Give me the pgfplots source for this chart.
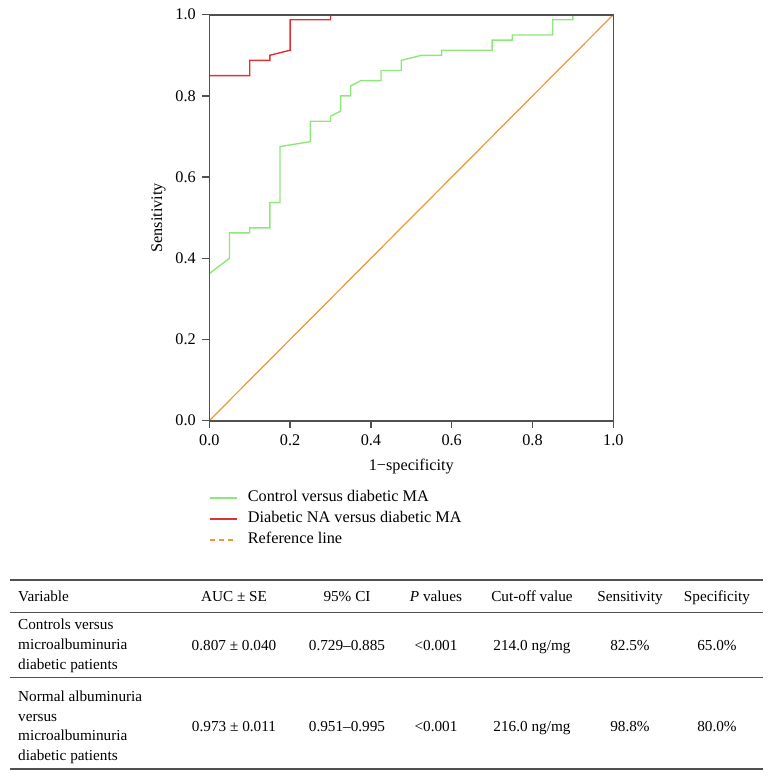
\documentclass[border=0pt]{standalone}
\usepackage{pgfplots}
\pgfplotsset{compat=1.18}
\usepackage{fontspec}
\setmainfont{Liberation Serif}
\definecolor{cgreen}{RGB}{140,232,120}
\definecolor{cred}{RGB}{226,48,48}
\definecolor{corange}{RGB}{240,150,50}
\definecolor{cframe}{RGB}{80,80,80}
\newcommand{\plotfont}{\fontsize{16.3}{19}\selectfont}
\newcommand{\tabfont}{\fontsize{15.3}{19}\selectfont}
\begin{document}
\begin{tikzpicture}
\path[use as bounding box] (0,0) rectangle (774bp,-780bp);
\begin{axis}[
  at={(209.3bp,-420.7bp)}, anchor=south west,
  scale only axis, width=404bp, height=406bp,
  xmin=0, xmax=1, ymin=0, ymax=1,
  axis on top,
  xtick={0,0.2,0.4,0.6,0.8,1}, ytick={0,0.2,0.4,0.6,0.8,1},
  tick pos=left, tick align=outside, major tick length=7bp,
  axis line style={cframe, line width=1.6bp},
  every tick/.style={cframe, line width=1.4bp},
  /pgf/number format/assume math mode=true,
  xticklabel={\pgfmathprintnumber[fixed,fixed zerofill,precision=1]{\tick}},
  yticklabel={\pgfmathprintnumber[fixed,fixed zerofill,precision=1]{\tick}},
  ticklabel style={font=\plotfont},
  xticklabel style={yshift=-3bp},
  yticklabel style={xshift=-3bp},
  xlabel={1−specificity}, ylabel={Sensitivity},
  label style={font=\plotfont},
  xlabel style={at={(axis description cs:0.5,-0.112)}, anchor=center},
  ylabel style={at={(axis description cs:-0.126,0.5)}, anchor=center},
  legend style={at={(axis description cs:0,-0.170)}, anchor=north west,
    draw=none, fill=none, inner sep=0pt, outer sep=0pt,
    font=\plotfont, row sep=5bp, column sep=10bp,
    nodes={inner sep=0pt, text height=12bp, text depth=4bp}},
  legend cell align=left,
  legend image code/.code={\draw[#1, line width=1.6bp] (0bp,0bp) -- (27bp,0bp);},
]
\addplot[cgreen, line width=1.4bp] coordinates {
(0,0.3625)(0.05,0.4)(0.05,0.4625)(0.1,0.4625)(0.1,0.475)(0.15,0.475)(0.15,0.5375)
(0.175,0.5375)(0.175,0.675)(0.25,0.6875)(0.25,0.7375)(0.3,0.7375)(0.3,0.75)
(0.325,0.7625)(0.325,0.8)(0.35,0.8)(0.35,0.825)(0.375,0.8375)(0.425,0.8375)
(0.425,0.8625)(0.475,0.8625)(0.475,0.8875)(0.525,0.9)(0.575,0.9)(0.575,0.9125)
(0.7,0.9125)(0.7,0.9375)(0.75,0.9375)(0.75,0.95)(0.85,0.95)(0.85,0.9875)
(0.9,0.9875)(0.9,1)(1,1)};
\addlegendentry{Control versus diabetic MA}
\addplot[cred, line width=1.4bp] coordinates {
(0,0.85)(0.1,0.85)(0.1,0.8875)(0.15,0.8875)(0.15,0.9)(0.2,0.9125)(0.2,0.9875)
(0.3,0.9875)(0.3,1)};
\addlegendentry{Diabetic NA versus diabetic MA}
\addlegendimage{corange, dash pattern=on 5bp off 4bp}
\addlegendentry{Reference line}
\addplot[corange, line width=1.2bp, forget plot] coordinates {(0,0)(1,1)};
\end{axis}
% table
\begin{scope}[every node/.style={font=\tabfont, inner sep=0pt}]
\foreach \y in {580,612.7,677.7,769}
  \draw[cframe, line width=1.3bp] (10bp,-\y bp) -- (763bp,-\y bp);
\node[anchor=base west] at (18bp,-601.7bp) {Variable};
\node[anchor=base] at (234bp,-601.7bp) {AUC ± SE};
\node[anchor=base] at (347bp,-601.7bp) {95\% CI};
\node[anchor=base] at (436bp,-601.7bp) {\textit{P} values};
\node[anchor=base] at (532bp,-601.7bp) {Cut-off value};
\node[anchor=base] at (630bp,-601.7bp) {Sensitivity};
\node[anchor=base] at (717bp,-601.7bp) {Specificity};
\node[anchor=base west] at (18bp,-629.5bp) {Controls versus};
\node[anchor=base west] at (18bp,-649.3bp) {microalbuminuria};
\node[anchor=base west] at (18bp,-669.1bp) {diabetic patients};
\node[anchor=base] at (234bp,-650bp) {0.807 ± 0.040};
\node[anchor=base] at (347bp,-650bp) {0.729–0.885};
\node[anchor=base] at (436bp,-650bp) {<0.001};
\node[anchor=base] at (532bp,-650bp) {214.0 ng/mg};
\node[anchor=base] at (630bp,-650bp) {82.5\%};
\node[anchor=base] at (717bp,-650bp) {65.0\%};
\node[anchor=base west] at (18bp,-701.5bp) {Normal albuminuria};
\node[anchor=base west] at (18bp,-721bp) {versus};
\node[anchor=base west] at (18bp,-740.5bp) {microalbuminuria};
\node[anchor=base west] at (18bp,-760bp) {diabetic patients};
\node[anchor=base] at (234bp,-731bp) {0.973 ± 0.011};
\node[anchor=base] at (347bp,-731bp) {0.951–0.995};
\node[anchor=base] at (436bp,-731bp) {<0.001};
\node[anchor=base] at (532bp,-731bp) {216.0 ng/mg};
\node[anchor=base] at (630bp,-731bp) {98.8\%};
\node[anchor=base] at (717bp,-731bp) {80.0\%};
\end{scope}
\end{tikzpicture}
\end{document}
